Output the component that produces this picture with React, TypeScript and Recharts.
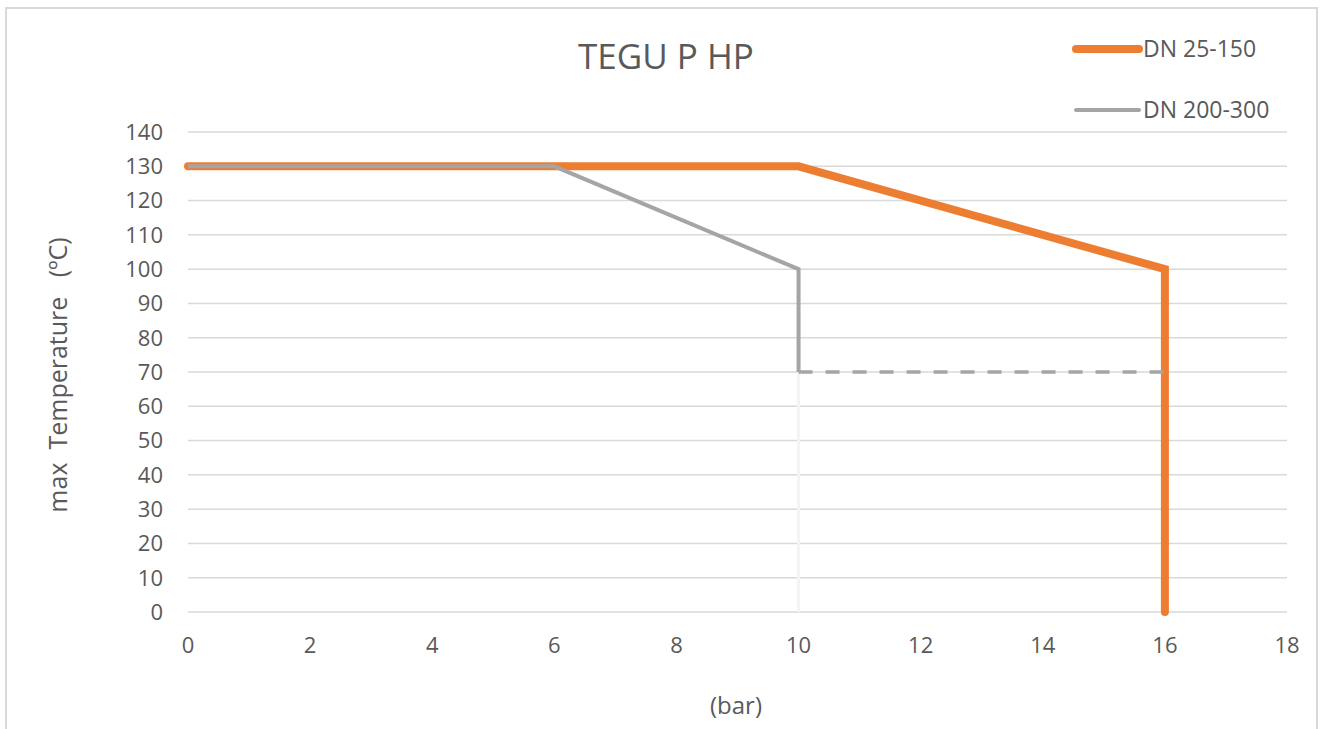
import React from 'react';
import { LineChart, Line, XAxis, YAxis, CartesianGrid, Legend } from 'recharts';

// pressure (bar) / max temperature (ºC)
const pressureSmall = [0, 10, 16, 16];
const tempSmall = [130, 130, 100, 0];

const pressureLarge = [0, 6, 10, 10];
const tempLarge = [130, 130, 100, 70];

// dashed continuation at 70 ºC, and the white cut under 10 bar
const pressureDashed = [10, 16];
const tempDashed = [70, 70];
const pressureCut = [10, 10];
const tempCut = [70, 0];

const xTicks = [0, 2, 4, 6, 8, 10, 12, 14, 16, 18];
const yTicks = [0, 10, 20, 30, 40, 50, 60, 70, 80, 90, 100, 110, 120, 130, 140];

const seriesNames = ['DN 25-150', 'DN 200-300'];

const ORANGE = '#ED7D31';
const GRAY = '#A5A5A5';
const TEXT = '#595959';
const FONT = '"Open Sans", sans-serif';

const toPoints = (xs: number[], ys: number[]) => xs.map((p, i) => ({ p, t: ys[i] }));

const smallData = toPoints(pressureSmall, tempSmall);
const largeData = toPoints(pressureLarge, tempLarge);
const dashedData = toPoints(pressureDashed, tempDashed);
const cutData = toPoints(pressureCut, tempCut);

const LegendBox = ({ payload }: any) => {
  // keep the legend in series order, whatever order recharts hands it over
  const items = seriesNames
    .map((name) => (payload || []).find((e: any) => e.value === name))
    .filter(Boolean);
  return (
    <svg width={250} height={100} style={{ overflow: 'visible' }}>
      {items.map((entry: any, i: number) => {
        const y = i === 0 ? 19 : 80;
        const w = i === 0 ? 8 : 4;
        return (
          <g key={entry.value}>
            <line x1={6} x2={69} y1={y} y2={y} stroke={entry.color} strokeWidth={w} strokeLinecap="round" />
            <text x={73} y={y + 8} fontSize={23} fill={TEXT} fontFamily={FONT}>
              {entry.value}
            </text>
          </g>
        );
      })}
    </svg>
  );
};

const App: React.FC = () => {
  return (
    <div style={{ position: 'absolute', left: 0, top: 0, width: 1325, height: 729, background: '#fff', overflow: 'hidden' }}>
      <div
        style={{
          position: 'absolute',
          left: 5,
          top: 7,
          width: 1309,
          height: 740,
          borderLeft: '2px solid #d9d9d9',
          borderTop: '2px solid #d9d9d9',
          borderRight: '2px solid #d9d9d9',
        }}
      />
      <div style={{ position: 'absolute', left: 0, top: 0 }}>
        <LineChart width={1325} height={729} margin={{ top: 132, right: 38, bottom: 77, left: 0 }}>
          <CartesianGrid vertical={false} stroke="#d9d9d9" strokeWidth={1.5} />
          <XAxis
            dataKey="p"
            type="number"
            domain={[0, 18]}
            ticks={xTicks}
            axisLine={false}
            tickLine={false}
            tickSize={0}
            tickMargin={25}
            height={40}
            tick={{ fill: TEXT, fontSize: 22, fontFamily: FONT }}
          />
          <YAxis
            type="number"
            domain={[0, 140]}
            ticks={yTicks}
            axisLine={false}
            tickLine={false}
            tickSize={0}
            tickMargin={25}
            width={188}
            tick={{ fill: TEXT, fontSize: 22, fontFamily: FONT }}
          />
          <Line
            data={cutData}
            dataKey="t"
            stroke="#f4f4f4"
            strokeWidth={3}
            dot={false}
            activeDot={false}
            legendType="none"
            isAnimationActive={false}
          />
          <Line
            data={smallData}
            dataKey="t"
            name={seriesNames[0]}
            stroke={ORANGE}
            strokeWidth={8}
            strokeLinecap="round"
            dot={false}
            activeDot={false}
            isAnimationActive={false}
          />
          <Line
            data={largeData}
            dataKey="t"
            name={seriesNames[1]}
            stroke={GRAY}
            strokeWidth={4}
            dot={false}
            activeDot={false}
            isAnimationActive={false}
          />
          <Line
            data={dashedData}
            dataKey="t"
            stroke={GRAY}
            strokeWidth={3.5}
            strokeDasharray="14 13"
            dot={false}
            activeDot={false}
            legendType="none"
            isAnimationActive={false}
          />
          <Legend
            layout="vertical"
            align="center"
            verticalAlign="middle"
            content={<LegendBox />}
            wrapperStyle={{ position: 'absolute', left: 1070, top: 30, width: 250, height: 100 }}
          />
          <text x={666} y={69} textAnchor="middle" fontSize={35} fill={TEXT} fontFamily={FONT}>
            TEGU P HP
          </text>
          <text x={736} y={714} textAnchor="middle" fontSize={24} fill={TEXT} fontFamily={FONT}>
            (bar)
          </text>
          <text
            x={0}
            y={0}
            transform="translate(67, 375) rotate(-90)"
            textAnchor="middle"
            fontSize={25}
            fill={TEXT}
            fontFamily={FONT}
            style={{ whiteSpace: 'pre' }}
          >
            {'max  Temperature   (ºC)'}
          </text>
        </LineChart>
      </div>
    </div>
  );
};

export default App;
